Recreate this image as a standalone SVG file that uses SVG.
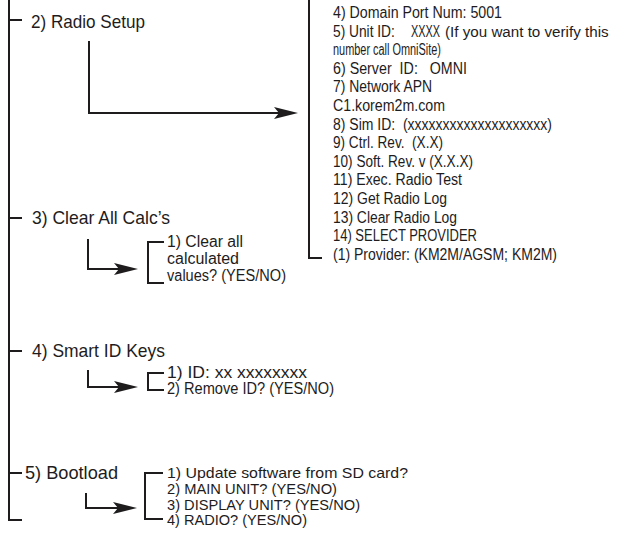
<svg xmlns="http://www.w3.org/2000/svg" width="621" height="537" viewBox="0 0 621 537">
<style>
.ln{stroke:#1e1c1d;stroke-width:2;fill:none}
.t{font-family:"Liberation Sans",Arial,sans-serif;fill:#1e1c1d;white-space:pre}
.m{font-size:19px}
.s{font-size:16px}
.b{font-size:15px}
</style>
<defs>
<marker id="ah" viewBox="0 0 24 12" refX="16" refY="6" markerWidth="24" markerHeight="12" markerUnits="userSpaceOnUse" orient="auto">
<path d="M0,0 L24,6 L0,12 L5,6 Z" fill="#1e1c1d"/>
</marker>
</defs>
<rect width="621" height="537" fill="#fff"/>
<g id="connectors">
<path class="ln" d="M9,0 V520 H22"/>
<path class="ln" d="M9,20 H22 M9,218 H22 M9,351 H22 M9,473 H22"/>
<path class="ln" d="M89,41 V113 H290" marker-end="url(#ah)"/>
<path class="ln" d="M88,239 V269 H130" marker-end="url(#ah)"/>
<path class="ln" d="M88,370 V387 H130" marker-end="url(#ah)"/>
<path class="ln" d="M86,493 V508 H129" marker-end="url(#ah)"/>
</g>
<g id="radio-setup">
<text class="t m" x="31" y="28" textLength="114" lengthAdjust="spacingAndGlyphs">2) Radio Setup</text>
</g>
<g id="radio-menu">
<path class="ln" d="M309,0 V258 H322"/>
<text class="t s" x="333" y="18" textLength="169" lengthAdjust="spacingAndGlyphs">4) Domain Port Num: 5001</text>
<text class="t s" transform="translate(333,36.6) scale(0.86,1)">5) Unit ID:</text>
<text class="t s" transform="translate(411,36.6) scale(0.68,1)">XXXX</text>
<text class="t" style="font-size:15.5px" transform="translate(445,36.6) scale(0.98,1)">(If you want to verify this</text>
<text class="t s" x="333" y="55.2" textLength="108" lengthAdjust="spacingAndGlyphs">number call OmniSite)</text>
<text class="t s" x="333" y="73.8" textLength="134" lengthAdjust="spacingAndGlyphs">6) Server  ID:   OMNI</text>
<text class="t s" x="333" y="92.4" textLength="99" lengthAdjust="spacingAndGlyphs">7) Network APN</text>
<text class="t s" x="333" y="111" textLength="112" lengthAdjust="spacingAndGlyphs">C1.korem2m.com</text>
<text class="t s" x="333" y="129.6" textLength="219" lengthAdjust="spacingAndGlyphs">8) Sim ID:  (xxxxxxxxxxxxxxxxxxxx)</text>
<text class="t s" x="333" y="148.2" textLength="110" lengthAdjust="spacingAndGlyphs">9) Ctrl. Rev.  (X.X)</text>
<text class="t s" x="333" y="166.8" textLength="140" lengthAdjust="spacingAndGlyphs">10) Soft. Rev. v (X.X.X)</text>
<text class="t s" x="333" y="185.4" textLength="129" lengthAdjust="spacingAndGlyphs">11) Exec. Radio Test</text>
<text class="t s" x="333" y="204" textLength="114" lengthAdjust="spacingAndGlyphs">12) Get Radio Log</text>
<text class="t s" x="333" y="222.6" textLength="124" lengthAdjust="spacingAndGlyphs">13) Clear Radio Log</text>
<text class="t s" x="333" y="241.2" textLength="144" lengthAdjust="spacingAndGlyphs">14) SELECT PROVIDER</text>
<text class="t s" x="333" y="259.8" textLength="224" lengthAdjust="spacingAndGlyphs">(1) Provider: (KM2M/AGSM; KM2M)</text>
</g>
<g id="clear-all">
<text class="t m" x="32" y="224" textLength="138" lengthAdjust="spacingAndGlyphs">3) Clear All Calc’s</text>
</g>
<g id="clear-menu">
<path class="ln" d="M164,242 H148 V283 H164"/>
<text class="t s" x="167" y="247" textLength="76" lengthAdjust="spacingAndGlyphs">1) Clear all</text>
<text class="t s" x="167" y="264" textLength="72" lengthAdjust="spacingAndGlyphs">calculated</text>
<text class="t s" x="167" y="281" textLength="119" lengthAdjust="spacingAndGlyphs">values? (YES/NO)</text>
</g>
<g id="smart-id">
<text class="t m" x="32" y="357" textLength="133" lengthAdjust="spacingAndGlyphs">4) Smart ID Keys</text>
</g>
<g id="smart-menu">
<path class="ln" d="M164,373 H148 V390 H164"/>
<text class="t s" x="167" y="378" textLength="140" lengthAdjust="spacingAndGlyphs">1) ID: xx xxxxxxxx</text>
<text class="t s" x="167" y="394" textLength="167" lengthAdjust="spacingAndGlyphs">2) Remove ID? (YES/NO)</text>
</g>
<g id="bootload">
<text class="t m" x="25" y="479" textLength="93" lengthAdjust="spacingAndGlyphs">5) Bootload</text>
</g>
<g id="boot-menu">
<path class="ln" d="M163,473 H145 V519 H163"/>
<text class="t b" x="167" y="478" textLength="241" lengthAdjust="spacingAndGlyphs">1) Update software from SD card?</text>
<text class="t b" x="167" y="494" textLength="170" lengthAdjust="spacingAndGlyphs">2) MAIN UNIT? (YES/NO)</text>
<text class="t b" x="167" y="509.5" textLength="193" lengthAdjust="spacingAndGlyphs">3) DISPLAY UNIT? (YES/NO)</text>
<text class="t b" x="167" y="525" textLength="140" lengthAdjust="spacingAndGlyphs">4) RADIO? (YES/NO)</text>
</g>
</svg>
